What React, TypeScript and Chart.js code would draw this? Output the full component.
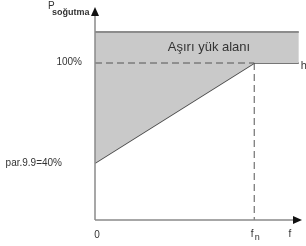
import React, { useEffect, useRef } from "react";
import { Chart, registerables } from "chart.js";

Chart.register(...registerables);

// Data (schematic, in % of nominal power vs frequency in % of fn)
const bandX = [0, 128];
const bandTop = [118.6, 118.6];
const limitX = [0, 100, 128];
const limitY = [40, 100, 100];
const nominalX = 100;
const nominalY = 100;
const xMin = 0;
const xMax = 130;
const yMin = 5.8;
const yMax = 133.6;

const xTickLabels = ["0", "f", "n", "f"];
const yLabels = ["100%", "par.9.9=40%"];
const yTitle = ["P", "soğutma"];
const areaLabel = "Aşırı yük alanı";
const lineTag = "h";

export default function App() {
  const ref = useRef<HTMLCanvasElement | null>(null);

  useEffect(() => {
    if (!ref.current) return;
    const overlay = {
      id: "overlay",
      afterDatasetsDraw(chart: any) {
        const { ctx, scales } = chart;
        const xs = scales.x;
        const ys = scales.y;
        const x0 = xs.getPixelForValue(0);
        const yb = ys.getPixelForValue(yMin);
        const yt = ys.getPixelForValue(yMax);
        const xr = xs.getPixelForValue(xMax);
        const xn = xs.getPixelForValue(nominalX);
        const y100 = ys.getPixelForValue(nominalY);
        const y40 = ys.getPixelForValue(limitY[0]);
        ctx.save();
        // dashed guides
        ctx.strokeStyle = "#555";
        ctx.lineWidth = 1;
        ctx.setLineDash([7, 4]);
        ctx.beginPath();
        ctx.moveTo(x0, y100);
        ctx.lineTo(xn, y100);
        ctx.moveTo(xn, y100);
        ctx.lineTo(xn, yb);
        ctx.stroke();
        ctx.setLineDash([]);
        // axes
        ctx.strokeStyle = "#8a8a8a";
        ctx.lineWidth = 1.5;
        ctx.beginPath();
        ctx.moveTo(x0, yb);
        ctx.lineTo(x0, yt + 6);
        ctx.moveTo(x0, yb);
        ctx.lineTo(xr - 6, yb);
        ctx.stroke();
        ctx.fillStyle = "#111";
        ctx.beginPath();
        ctx.moveTo(x0, yt);
        ctx.lineTo(x0 - 4, yt + 9);
        ctx.lineTo(x0 + 4, yt + 9);
        ctx.closePath();
        ctx.fill();
        ctx.beginPath();
        ctx.moveTo(xr, yb);
        ctx.lineTo(xr - 9, yb - 4);
        ctx.lineTo(xr - 9, yb + 4);
        ctx.closePath();
        ctx.fill();
        // texts
        ctx.fillStyle = "#333";
        ctx.textBaseline = "middle";
        ctx.font = "10px 'Liberation Sans', Arial, sans-serif";
        ctx.textAlign = "center";
        ctx.fillText(xTickLabels[0], x0 + 2, yb + 15);
        ctx.fillText(xTickLabels[1], xn - 2, yb + 14);
        ctx.font = "9px 'Liberation Sans', Arial, sans-serif";
        ctx.fillText(xTickLabels[2], xn + 3, yb + 18);
        ctx.font = "10px 'Liberation Sans', Arial, sans-serif";
        ctx.fillText(xTickLabels[3], xr - 12, yb + 14);
        ctx.textAlign = "right";
        ctx.fillText(yLabels[0], x0 - 13, y100 - 1);
        ctx.fillText(yLabels[1], x0 - 33, y40);
        ctx.textAlign = "left";
        ctx.fillText(yTitle[0], x0 - 47, yt - 1);
        ctx.font = "bold 9px 'Liberation Sans', Arial, sans-serif";
        ctx.fillText(yTitle[1], x0 - 43, yt + 6);
        ctx.font = "13px 'Liberation Sans', Arial, sans-serif";
        ctx.textAlign = "center";
        ctx.fillText(areaLabel, x0 + 114, ys.getPixelForValue(109.5));
        ctx.font = "11px 'Liberation Sans', Arial, sans-serif";
        ctx.textAlign = "left";
        ctx.fillText(lineTag, xs.getPixelForValue(bandX[1]) + 2, y100 + 3);
        ctx.restore();
      },
    };

    const chart = new Chart(ref.current, {
      type: "line",
      data: {
        datasets: [
          {
            data: bandX.map((x, i) => ({ x, y: bandTop[i] })),
            borderColor: "#8c8c8c",
            borderWidth: 2,
            backgroundColor: "#c9c9c9",
            fill: "+1",
            pointRadius: 0,
          },
          {
            data: limitX.map((x, i) => ({ x, y: limitY[i] })),
            borderColor: "#4a4a4a",
            borderWidth: 1.5,
            fill: false,
            pointRadius: 0,
          },
        ],
      },
      options: {
        animation: false,
        responsive: false,
        events: [],
        layout: { padding: { left: 95, right: 4, top: 7, bottom: 26 } },
        plugins: { legend: { display: false }, tooltip: { enabled: false } },
        scales: {
          x: { type: "linear", min: xMin, max: xMax, display: false },
          y: { type: "linear", min: yMin, max: yMax, display: false },
        },
      },
      plugins: [overlay],
    });
    return () => chart.destroy();
  }, []);

  return (
    <div style={{ position: "fixed", left: 0, top: 0, width: 306, height: 246, background: "#fff" }}>
      <canvas ref={ref} width={306} height={246} style={{ display: "block" }} />
    </div>
  );
}
